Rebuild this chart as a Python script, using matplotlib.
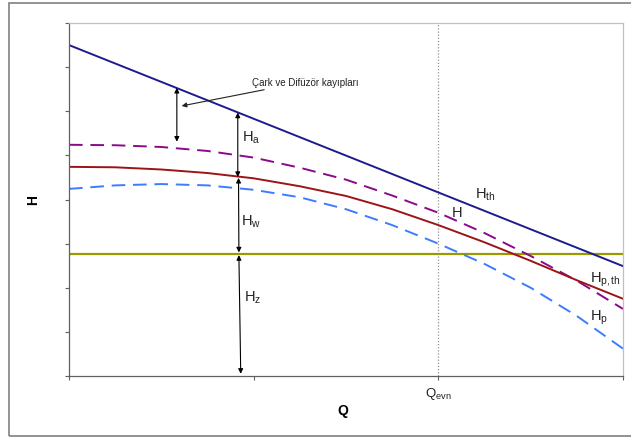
import matplotlib
matplotlib.use("Agg")
import matplotlib.pyplot as plt
from matplotlib.patches import Rectangle

plt.rcParams['font.family'] = ['Liberation Sans', 'DejaVu Sans']
plt.rcParams['mathtext.fontset'] = 'custom'
plt.rcParams['mathtext.rm'] = 'Liberation Sans'
plt.rcParams['mathtext.it'] = 'Liberation Sans'

# ---- data ----
q = [0, 0.25, 0.5, 0.75, 1.0, 1.25, 1.5, 1.75, 2.0, 2.25, 2.5, 2.75, 3.0]
h_th_q = [0, 3.0]
h_th = [7.5, 2.49]
h_a = [5.24, 5.23, 5.19, 5.10, 4.95, 4.72, 4.45, 4.09, 3.70, 3.24, 2.72, 2.16, 1.52]
h_pth = [4.74, 4.73, 4.68, 4.60, 4.48, 4.30, 4.08, 3.78, 3.42, 3.03, 2.61, 2.17, 1.75]
h_p = [4.24, 4.32, 4.35, 4.32, 4.22, 4.05, 3.78, 3.42, 3.00, 2.54, 2.00, 1.36, 0.62]
h_z = 2.77
q_evn = 2.0
x_ticks = [0, 1, 2, 3]
x_tick_labels = ['', '', r'Q$_{\mathrm{evn}}$', '']
y_ticks = [0, 1, 2, 3, 4, 5, 6, 7, 8]

W, H = 631, 439
fig = plt.figure(figsize=(W / 100, H / 100), dpi=100)
fig.patch.set_facecolor('white')
fig.patches.append(Rectangle((9 / W, 2 / H), (660 - 9) / W, (435 - 2) / H,
                             transform=fig.transFigure, fill=False,
                             edgecolor='#808080', lw=1.2, clip_on=False))

ax = fig.add_axes([69 / W, (H - 377) / H, 554 / W, 353 / H])
ax.set_xlim(0, 3)
ax.set_ylim(0, 8)

ax.axvline(q_evn, color='#909090', lw=0.9, ls=(0, (1, 1.5)))
ax.axhline(h_z, color='#999900', lw=1.6)
ax.plot(h_th_q, h_th, color='#1c1c8c', lw=1.4)
ax.plot(q, h_a, color='#8a0a8a', lw=1.4, ls=(0, (7, 4)))
ax.plot(q, h_pth, color='#9c1418', lw=1.4)
ax.plot(q, h_p, color='#3c7cff', lw=1.4, ls=(0, (7, 4)))

ap = dict(arrowstyle='<|-|>', color='black', lw=0.8, mutation_scale=7,
          shrinkA=0, shrinkB=0)
ax.annotate('', xy=(0.584, 5.31), xytext=(0.584, 6.53), arrowprops=ap)
ax.annotate('', xy=(0.914, 4.51), xytext=(0.914, 5.97), arrowprops=ap)
ax.annotate('', xy=(0.92, 2.80), xytext=(0.918, 4.49), arrowprops=ap)
ax.annotate('', xy=(0.93, 0.05), xytext=(0.92, 2.74), arrowprops=ap)
ax.annotate('Çark ve Difüzör kayıpları', xy=(0.61, 6.12), xytext=(0.99, 6.67),
            fontsize=7, va='center', ha='left', color='#222222',
            arrowprops=dict(arrowstyle='-|>', color='#222222', lw=0.8,
                            mutation_scale=7, shrinkA=1, shrinkB=0))

lab = dict(fontsize=10.5, color='#222222', va='center', ha='left')
ax.text(0.935, 5.42, r'H$_{\mathrm{a}}$', **lab)
ax.text(0.93, 3.51, r'H$_{\mathrm{w}}$', **lab)
ax.text(0.945, 1.79, r'H$_{\mathrm{z}}$', **lab)
ax.text(2.2, 4.13, r'H$_{\mathrm{th}}$', **lab)
ax.text(2.07, 3.72, 'H', **lab)
ax.text(2.82, 2.2, r'H$_{\mathrm{p,th}}$', **lab)
ax.text(2.82, 1.34, r'H$_{\mathrm{p}}$', **lab)

ax.set_xticks(x_ticks)
ax.set_xticklabels(x_tick_labels, fontsize=9.5, color='#222222')
ax.set_yticks(y_ticks)
ax.set_yticklabels([])
ax.tick_params(direction='out', length=3, width=0.8, color='#606060')
for s in ['left', 'bottom']:
    ax.spines[s].set_color('#606060')
    ax.spines[s].set_linewidth(0.9)
for s in ['top', 'right']:
    ax.spines[s].set_color('#c0c0c0')
    ax.spines[s].set_linewidth(0.9)

fig.text(33 / W, (H - 200) / H, 'H', rotation=90, fontsize=10, fontweight='bold',
         ha='center', va='center')
fig.text(343 / W, (H - 411) / H, 'Q', fontsize=10, fontweight='bold',
         ha='center', va='center')

fig.savefig('out.png', dpi=100)
